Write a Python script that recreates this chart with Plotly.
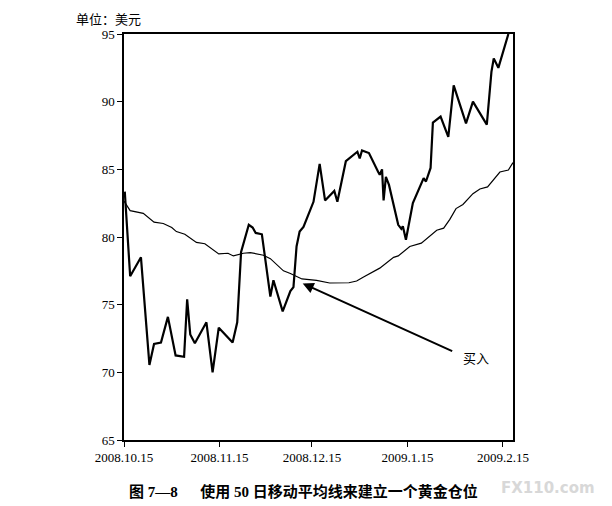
import plotly.graph_objects as go

price_dates = [
    "2008-10-15 06:00", "2008-10-17", "2008-10-20 12:00", "2008-10-23 06:00", "2008-10-24 18:00",
    "2008-10-27", "2008-10-29 06:00", "2008-10-31 18:00", "2008-11-03 12:00", "2008-11-04 12:00",
    "2008-11-05 12:00", "2008-11-07", "2008-11-10 18:00", "2008-11-12 18:00", "2008-11-14 18:00",
    "2008-11-19 06:00", "2008-11-20 18:00", "2008-11-22", "2008-11-24 12:00", "2008-11-25 18:00",
    "2008-11-26 18:00", "2008-11-28 18:00", "2008-12-01 12:00", "2008-12-02 12:00", "2008-12-05 12:00",
    "2008-12-08", "2008-12-09", "2008-12-10", "2008-12-11", "2008-12-12 06:00",
    "2008-12-15 12:00", "2008-12-17 12:00", "2008-12-19 06:00", "2008-12-22 06:00", "2008-12-23 06:00",
    "2008-12-26", "2008-12-29 18:00", "2008-12-30 12:00", "2008-12-31 06:00", "2009-01-02 12:00",
    "2009-01-05 12:00", "2009-01-06", "2009-01-06 18:00", "2009-01-07 06:00", "2009-01-08",
    "2009-01-09", "2009-01-12", "2009-01-13", "2009-01-13 12:00", "2009-01-14 12:00",
    "2009-01-16 18:00", "2009-01-20 06:00", "2009-01-21", "2009-01-22", "2009-01-22 12:00",
    "2009-01-23 06:00", "2009-01-25 18:00", "2009-01-28 06:00", "2009-01-30", "2009-02-03",
    "2009-02-05 06:00", "2009-02-09 18:00", "2009-02-11 06:00", "2009-02-12", "2009-02-13 12:00",
    "2009-02-16 18:00",
]
price_values = [
    83.35, 77.1, 78.5, 70.55, 72.1,
    72.2, 74.1, 71.25, 71.15, 75.4,
    72.8, 72.15, 73.7, 70.0, 73.3,
    72.2, 73.7, 78.9, 80.9, 80.7,
    80.3, 80.2, 75.6, 76.8, 74.5,
    76.0, 76.3, 79.3, 80.4, 80.75,
    82.6, 85.4, 82.7, 83.4, 82.6,
    85.6, 86.3, 85.8, 86.4, 86.2,
    84.8, 84.6, 85.0, 82.7, 84.45,
    83.85, 80.9, 80.6, 80.8, 79.8,
    82.5, 84.35, 84.1, 84.7, 85.1,
    88.45, 88.9, 87.4, 91.2, 88.4,
    90.0, 88.3, 92.2, 93.2, 92.5,
    95.0,
]

ma_dates = [
    "2008-10-15", "2008-10-17", "2008-10-21 06:00", "2008-10-24 18:00", "2008-10-27 18:00",
    "2008-10-30 12:00", "2008-11-01", "2008-11-03 18:00", "2008-11-07 12:00", "2008-11-10 06:00",
    "2008-11-14 18:00", "2008-11-17 18:00", "2008-11-19 12:00", "2008-11-22 18:00", "2008-11-25",
    "2008-11-29 06:00", "2008-12-01 12:00", "2008-12-05 18:00", "2008-12-08", "2008-12-11 18:00",
    "2008-12-16 12:00", "2008-12-20 18:00", "2008-12-27", "2008-12-29 12:00", "2008-12-31 18:00",
    "2009-01-06", "2009-01-10 12:00", "2009-01-12", "2009-01-15 18:00", "2009-01-19 12:00",
    "2009-01-24 12:00", "2009-01-26 18:00", "2009-01-28 18:00", "2009-01-30 18:00", "2009-02-02",
    "2009-02-05 06:00", "2009-02-07 12:00", "2009-02-10", "2009-02-14", "2009-02-16 18:00",
    "2009-02-18 06:00",
]
ma_values = [
    82.65, 81.95, 81.75, 81.1, 81.0,
    80.7, 80.4, 80.2, 79.6, 79.5,
    78.75, 78.8, 78.6, 78.8, 78.85,
    78.65, 78.4, 77.5, 77.3, 76.9,
    76.8, 76.6, 76.62, 76.75, 77.05,
    77.7, 78.5, 78.6, 79.3, 79.55,
    80.5, 80.65, 81.3, 82.1, 82.4,
    83.2, 83.55, 83.7, 84.8, 84.95,
    85.5,
]

tick_dates = ["2008-10-15", "2008-11-15", "2008-12-15", "2009-01-15", "2009-02-15"]
tick_labels = ["2008.10.15", "2008.11.15", "2008.12.15", "2009.1.15", "2009.2.15"]
y_ticks = [65, 70, 75, 80, 85, 90, 95]

fig = go.Figure()
fig.add_trace(go.Scatter(x=ma_dates, y=ma_values, mode="lines",
                         line=dict(color="black", width=1.2), showlegend=False))
fig.add_trace(go.Scatter(x=price_dates, y=price_values, mode="lines",
                         line=dict(color="black", width=2.2), showlegend=False))

serif = "Liberation Serif, Times New Roman, serif"
cjk = "Noto Sans CJK SC"

W, H = 604, 498
L, R, T, B = 116, 99, 26, 66
OFF = 8  # page body margin

fig.update_layout(
    width=W, height=H,
    margin=dict(l=L, r=R, t=T, b=B),
    paper_bgcolor="white", plot_bgcolor="white",
    xaxis=dict(
        type="date", range=["2008-10-15", "2009-02-18 06:00"],
        tickvals=tick_dates, ticktext=tick_labels,
        ticks="outside", ticklen=5, tickwidth=1.2, tickcolor="black",
        showline=True, linecolor="black", linewidth=1.5, mirror=True,
        showgrid=False, zeroline=False,
        tickfont=dict(family=serif, size=13, color="black"),
    ),
    yaxis=dict(
        range=[65, 95], tickvals=y_ticks,
        ticks="outside", ticklen=5, tickwidth=1.2, tickcolor="black",
        showline=True, linecolor="black", linewidth=1.5, mirror=True,
        showgrid=False, zeroline=False,
        tickfont=dict(family=serif, size=13, color="black"),
    ),
)

fig.add_annotation(x="2008-12-12", y=76.57, ax="2009-01-30", ay=71.52,
                   xref="x", yref="y", axref="x", ayref="y",
                   text="", showarrow=True, arrowhead=2, arrowsize=1.1,
                   arrowwidth=2, arrowcolor="black")
fig.add_annotation(x="2009-02-06 06:00", y=71.13, xref="x", yref="y",
                   text="买入", showarrow=False, xanchor="center", yanchor="middle",
                   font=dict(family=cjk, size=13, color="black"))

pw = W - L - R
ph = H - T - B


def page_text(px, py, text, font):
    fig.add_annotation(
        x=(px - OFF - L) / pw, y=(H - B - (py - OFF)) / ph,
        xref="paper", yref="paper", text=text, showarrow=False,
        xanchor="center", yanchor="middle", font=font)


page_text(108, 18, "单位：美元", dict(family=cjk, size=13, color="black"))
page_text(303, 491, "<b>图 7—8　  使用 50 日移动平均线来建立一个黄金仓位</b>",
          dict(family=serif + ", " + cjk, size=15, color="black"))
page_text(548, 488, "<b>FX110.com</b>", dict(family="DejaVu Sans", size=15, color="#d8d8d8"))

fig.write_html("out.html")
